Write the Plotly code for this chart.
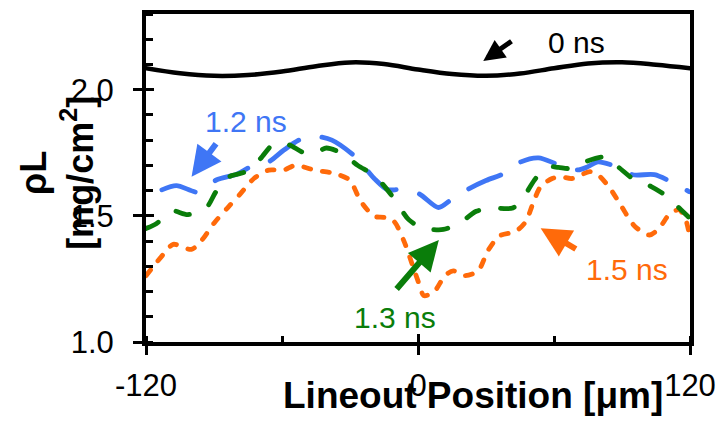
import plotly.graph_objects as go

FONT = "Liberation Sans, Arial, sans-serif"

# ---- data ----
x_0ns = [-120, -105, -90, -75, -60, -45, -30, -15, 0, 15, 30, 45, 60, 75, 90, 105, 120]
y_0ns = [2.085, 2.065, 2.055, 2.058, 2.072, 2.093, 2.108, 2.102, 2.08, 2.062, 2.055, 2.064, 2.085, 2.104, 2.109, 2.099, 2.085]

x_12ns = [-113, -106.6, -96.4, -89, -80, -73.9, -65.9, -59.3, -51.4, -45, -38, -27.5, -19.3, -13.5,
          -7.8, 0.5, 9, 14.8, 22.8, 30, 38, 45.4, 53.2, 60.7, 66, 70.7, 75, 79.4, 87.6, 94.7, 104.3, 111.6, 119.6]
y_12ns = [1.603, 1.62, 1.593, 1.642, 1.665, 1.694, 1.714, 1.76, 1.805, 1.815, 1.80, 1.733, 1.648, 1.604,
          1.604, 1.587, 1.533, 1.565, 1.609, 1.64, 1.668, 1.714, 1.73, 1.707, 1.69, 1.682, 1.695, 1.714, 1.694, 1.663, 1.663, 1.635, 1.596]

x_13ns = [-120, -115.3, -108.8, -101.5, -93.5, -89.1, -83.3, -76, -69.5, -64.4, -60, -56.4, -49.2, -44,
          -40.4, -33.2, -26.6, -19.3, -13.5, -9.2, -4.1, 1.7, 6, 11.2, 18.5, 25.7, 33, 41.8, 47.6, 51.9,
          57.7, 62, 67.2, 73.7, 82.5, 88.3, 95.6, 102.9, 110, 116, 120]
y_13ns = [1.45, 1.47, 1.52, 1.505, 1.531, 1.596, 1.655, 1.675, 1.727, 1.78, 1.79, 1.78, 1.746, 1.755,
          1.769, 1.746, 1.70, 1.66, 1.603, 1.55, 1.485, 1.452, 1.446, 1.446, 1.472, 1.518, 1.531, 1.531, 1.589, 1.648,
          1.694, 1.692, 1.688, 1.714, 1.733, 1.694, 1.642, 1.616, 1.576, 1.524, 1.49]

x_15ns = [-120, -111.7, -108, -100, -95.7, -89.9, -84.1, -78.2, -72.4, -65.9, -59.3, -54.2, -45.5, -36.8,
          -30.2, -25.2, -19.3, -15, -10.6, -6.2, -2.6, 1, 2.5, 6.9, 11.9, 15.6, 20.6, 26.5, 30.8, 35.9, 43.2,
          47.6, 50.5, 54.1, 59.2, 62.8, 67.9, 75.9, 79.6, 84.7, 89.8, 95.6, 102.1, 106.5, 110.8, 115.2, 118.1, 120]
y_15ns = [1.263, 1.354, 1.387, 1.367, 1.40, 1.472, 1.531, 1.589, 1.648, 1.681, 1.681, 1.70, 1.681, 1.668,
          1.642, 1.557, 1.498, 1.494, 1.478, 1.40, 1.309, 1.217, 1.184, 1.197, 1.263, 1.282, 1.263, 1.282, 1.361, 1.42, 1.439,
          1.478, 1.544, 1.616, 1.648, 1.655, 1.648, 1.675, 1.661, 1.609, 1.537, 1.459, 1.424, 1.452, 1.505, 1.524, 1.485, 1.41]

x_ticks = [-120, 0, 120]
x_ticktext = ["-120", "0", "120"]
y_ticks = [1.0, 1.5, 2.0]
y_ticktext = ["1.0", "1.5", "2.0"]
x_range = [-120, 120]
y_range = [1.0, 2.3]

BLUE = "#3F76F5"
GREEN = "#0A7D0A"
ORANGE = "#FF6A0A"
BLACK = "#000000"

fig = go.Figure()
fig.add_trace(go.Scatter(x=x_15ns, y=y_15ns, mode="lines",
                         line=dict(color=ORANGE, width=4.8, dash="7px,12px", shape="spline", smoothing=0.8)))
fig.add_trace(go.Scatter(x=x_12ns, y=y_12ns, mode="lines",
                         line=dict(color=BLUE, width=4.8, dash="35px,24px", shape="spline", smoothing=0.8)))
fig.add_trace(go.Scatter(x=x_13ns, y=y_13ns, mode="lines",
                         line=dict(color=GREEN, width=4.8, dash="14px,22px", shape="spline", smoothing=0.8)))
fig.add_trace(go.Scatter(x=x_0ns, y=y_0ns, mode="lines", xaxis="x2", yaxis="y2",
                         line=dict(color=BLACK, width=4.5, shape="spline", smoothing=1)))

axis_common = dict(showgrid=False, zeroline=False, tickcolor="black", tickwidth=3)

fig.update_layout(
    width=726, height=421,
    margin=dict(l=146, r=31, t=10, b=79),
    paper_bgcolor="white", plot_bgcolor="white",
    showlegend=False,
    font=dict(family=FONT, color="black", size=30),
    xaxis=dict(range=x_range, tickvals=x_ticks, ticktext=x_ticktext, ticks="outside", ticklen=9,
               showline=True, linecolor="black", linewidth=4, mirror=True,
               tickfont=dict(size=31), ticklabelstandoff=4,
               minor=dict(tick0=-120, dtick=60, ticks="inside", ticklen=6, tickwidth=3, tickcolor="black"),
               **axis_common),
    yaxis=dict(range=y_range, tickvals=y_ticks, ticktext=y_ticktext, ticks="outside", ticklen=9,
               showline=True, linecolor="black", linewidth=4, mirror=True,
               tickfont=dict(size=31), ticklabelstandoff=13,
               minor=dict(tick0=1.0, dtick=0.1, ticks="inside", ticklen=7, tickwidth=3, tickcolor="black"),
               **axis_common),
    xaxis2=dict(range=x_range, tickvals=x_ticks, ticks="inside", ticklen=8, showticklabels=False,
                overlaying="x", anchor="y", showline=False, **axis_common),
    yaxis2=dict(range=y_range, tickvals=y_ticks, ticks="inside", ticklen=8, showticklabels=False,
                overlaying="y", anchor="x", showline=False, **axis_common),
)

# axis titles
fig.add_annotation(text="<b>Lineout Position [μm]</b>", xref="paper", yref="paper",
                   x=0.601, y=-0.163, xanchor="center", yanchor="middle", showarrow=False,
                   font=dict(size=37, family=FONT, color="black"))
fig.add_annotation(text="<b>ρL</b><br><b>[mg/cm<sup>2</sup>]</b>", xref="paper", yref="paper",
                   x=-0.164, y=0.515, xanchor="center", yanchor="middle", showarrow=False, textangle=-90,
                   font=dict(size=36, family=FONT, color="black"))

# series labels and arrows
labels = [
    ("0 ns", BLACK, 69.8, 2.188, 28.8, 2.114, 41.9, 2.196, 5.0, 0.85),
    ("1.2 ns", BLUE, -75.9, 1.875, -99.9, 1.655, -88.6, 1.792, 6.0, 1.0),
    ("1.3 ns", GREEN, -10.0, 1.098, 9.2, 1.404, -10.0, 1.204, 6.0, 1.0),
    ("1.5 ns", ORANGE, 92.1, 1.286, 54.1, 1.451, 70.3, 1.365, 6.0, 1.0),
]
for txt, col, tx, ty, hx, hy, ax, ay, aw, asz in labels:
    fig.add_annotation(text=txt, x=tx, y=ty, xref="x", yref="y", showarrow=False,
                       xanchor="center", yanchor="middle", font=dict(size=30, color=col, family=FONT))
    fig.add_annotation(text="", x=hx, y=hy, xref="x", yref="y", ax=ax, ay=ay, axref="x", ayref="y",
                       showarrow=True, arrowhead=2, arrowsize=asz, arrowwidth=aw, arrowcolor=col,
                       standoff=0, startstandoff=0)

post = ("document.querySelectorAll('.scatterlayer .js-line').forEach(function(p){"
        "p.style.strokeLinecap='round';});")
fig.write_html("out.html", post_script=post)
